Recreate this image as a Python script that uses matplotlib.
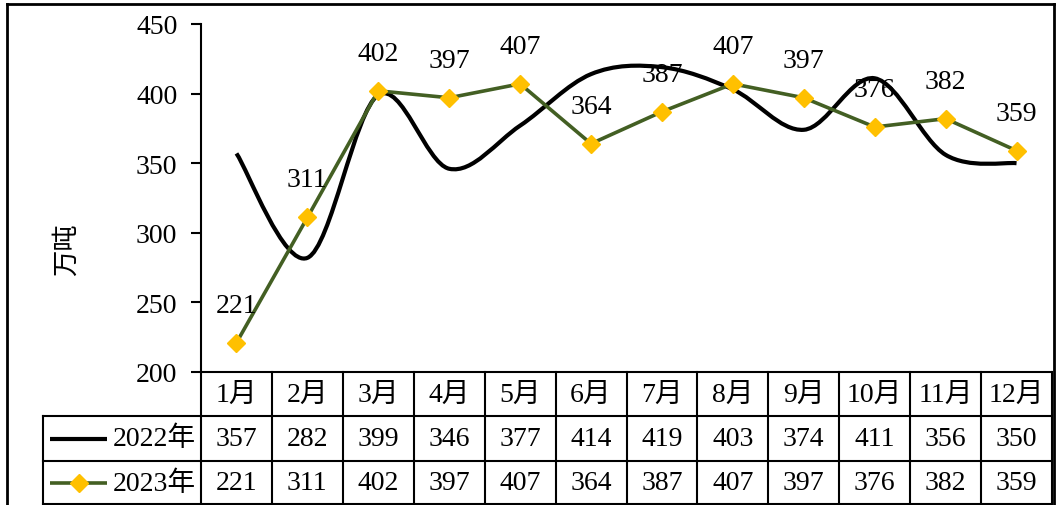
import numpy as np
import matplotlib.pyplot as plt
from matplotlib.lines import Line2D
from matplotlib.path import Path
from matplotlib.patches import PathPatch

plt.rcParams['font.family'] = ['Liberation Serif', 'Noto Sans CJK SC']

# 数据
months = ['1月', '2月', '3月', '4月', '5月', '6月', '7月', '8月', '9月', '10月', '11月', '12月']
v2022 = [357, 282, 399, 346, 377, 414, 419, 403, 374, 411, 356, 350]
v2023 = [221, 311, 402, 397, 407, 364, 387, 407, 397, 376, 382, 359]
series_names = ['2022年', '2023年']
yticks = [200, 250, 300, 350, 400, 450]

black = '#000000'
green = '#435F23'
yellow = '#FFC000'
fs = 20

W, H = 1057, 506
fig = plt.figure(figsize=(W / 100, H / 100), dpi=100)

# 外框
bx0, bx1, by = 7 / W, 1054 / W, 1 - 5 / H
for xs, ys in [([bx0, bx1], [by, by]), ([bx0, bx0], [by, -0.01]), ([bx1, bx1], [by, -0.01])]:
    fig.add_artist(Line2D(xs, ys, transform=fig.transFigure, color='black',
                          lw=2, solid_capstyle='projecting', zorder=10))

x0, x1 = 201, 1052
ytop, ybot = 25, 373
ax = fig.add_axes([x0 / W, 1 - ybot / H, (x1 - x0) / W, (ybot - ytop) / H])
ax.set_xlim(0.5, 12.5)
ax.set_ylim(200, 450)
for s in ['top', 'right', 'bottom']:
    ax.spines[s].set_visible(False)
ax.spines['left'].set_linewidth(1.5)
ax.set_xticks([])
ax.set_yticks(yticks)
ax.tick_params(axis='y', direction='out', length=7, width=1.5, labelsize=fs, pad=10)
ax.set_ylabel('万吨', family='Noto Sans CJK SC', fontsize=19)
ax.yaxis.set_label_coords((80 - x0) / (x1 - x0), (ybot - 250) / (ybot - ytop))

x = np.arange(1, 13)


# Excel 风格的平滑曲线 (Catmull-Rom -> Bezier)
def smooth_path(xs, ys):
    pts = np.column_stack([xs, ys]).astype(float)
    n = len(pts)
    verts = [pts[0]]
    codes = [Path.MOVETO]
    for i in range(n - 1):
        p0 = pts[i - 1] if i > 0 else pts[i]
        p1 = pts[i]
        p2 = pts[i + 1]
        p3 = pts[i + 2] if i + 2 < n else pts[i + 1]
        c1 = p1 + (p2 - p0) / 6
        c2 = p2 - (p3 - p1) / 6
        verts += [c1, c2, p2]
        codes += [Path.CURVE4] * 3
    return Path(verts, codes)


ax.add_patch(PathPatch(smooth_path(x, v2022), fill=False, edgecolor=black,
                       lw=3.0, capstyle='butt', zorder=2))
ax.plot(x, v2023, color=green, lw=2.6, marker='D', markersize=9.5,
        markerfacecolor=yellow, markeredgecolor=yellow, zorder=3, clip_on=False)
for xi, v in zip(x, v2023):
    ax.annotate(str(v), (xi, v), xytext=(0, 27), textcoords='offset points',
                ha='center', va='center', fontsize=fs, zorder=4)

# 数据表
tl = 43
unit = (x1 - x0) / 12
tax = fig.add_axes([tl / W, 0, (x1 - tl) / W, (H - ybot) / H])
xl = 0.5 - (x0 - tl) / unit
tax.set_xlim(xl, 12.5)
tax.set_ylim(0, 3)
tax.axis('off')
lw = 1.5
for xv in np.arange(0.5, 13.5, 1):
    tax.plot([xv, xv], [0, 3], color='black', lw=lw, clip_on=False)
tax.plot([xl, xl], [0, 2], color='black', lw=lw, clip_on=False)
tax.plot([0.5, 12.5], [3, 3], color='black', lw=lw, clip_on=False)
for yv in [0.02, 1, 2]:
    tax.plot([xl, 12.5], [yv, yv], color='black', lw=lw, clip_on=False)

for xi, m in zip(x, months):
    tax.text(xi, 2.5, m, ha='center', va='center', fontsize=fs)
for row, vals in zip([1.5, 0.5], [v2022, v2023]):
    for xi, v in zip(x, vals):
        tax.text(xi, row, str(v), ha='center', va='center', fontsize=fs)

# 图例键
kx = xl + (50 - tl) / unit
kx2 = xl + (107 - tl) / unit
tax.plot([kx, kx2], [1.5, 1.5], color=black, lw=3.0, solid_capstyle='butt')
tax.plot([kx, kx2], [0.5, 0.5], color=green, lw=2.6, solid_capstyle='butt')
tax.plot([(kx + kx2) / 2], [0.5], marker='D', markersize=9.5,
         color=yellow, markeredgecolor=yellow)
for row, name in zip([1.5, 0.5], series_names):
    tax.text(0.5 - 5 / unit, row, name, ha='right', va='center', fontsize=fs)

fig.savefig('out.png', dpi=100)
